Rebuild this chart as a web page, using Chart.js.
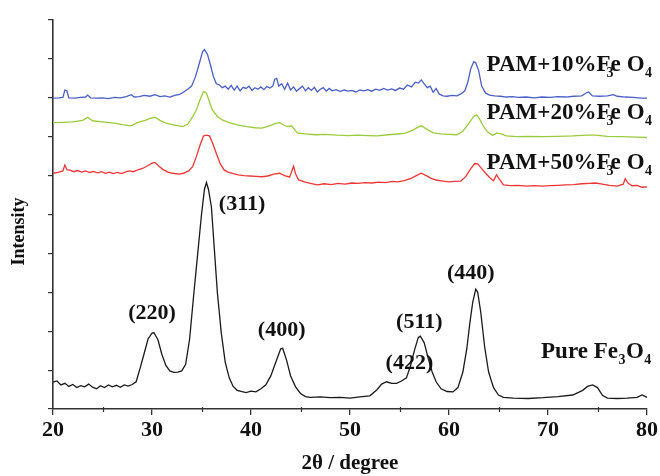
<!DOCTYPE html>
<html>
<head>
<meta charset="utf-8">
<script src="https://cdn.jsdelivr.net/npm/chart.js@4.4.1/dist/chart.umd.min.js"></script>
<style>
html,body{margin:0;padding:0;background:#fff;}
#wrap{width:660px;height:476px;position:relative;}
</style>
</head>
<body>
<div id="wrap"><canvas id="c" width="660" height="476"></canvas></div>
<script>
// ---- data: [2θ (degree), intensity (arbitrary, stacked)] ----
const pureFe3O4 = [[20.0,0.69],[20.4,0.72],[20.8,0.62],[21.2,0.66],[21.6,0.58],[22.0,0.63],[22.4,0.55],[22.8,0.60],[23.2,0.57],[23.6,0.64],[24.0,0.56],[24.4,0.52],[24.8,0.60],[25.2,0.55],[25.6,0.62],[26.0,0.57],[26.4,0.61],[26.8,0.56],[27.2,0.62],[27.6,0.59],[28.0,0.63],[28.4,0.70],[28.8,1.05],[29.2,1.42],[29.6,1.80],[30.0,1.95],[30.2,1.96],[30.6,1.78],[31.0,1.40],[31.4,1.12],[31.8,0.98],[32.2,0.94],[32.6,0.95],[33.0,0.98],[33.4,1.15],[33.8,1.80],[34.2,2.90],[34.6,3.95],[35.0,5.00],[35.3,5.65],[35.5,5.82],[35.7,5.65],[36.0,5.20],[36.3,4.10],[36.6,3.00],[37.0,1.95],[37.4,1.20],[37.8,0.80],[38.2,0.58],[38.6,0.48],[39.0,0.45],[39.5,0.42],[40.0,0.46],[40.5,0.44],[41.0,0.52],[41.5,0.62],[42.0,0.85],[42.5,1.20],[43.0,1.55],[43.2,1.56],[43.6,1.25],[44.0,0.85],[44.5,0.57],[45.0,0.40],[45.5,0.32],[46.0,0.30],[47.0,0.31],[48.0,0.29],[49.0,0.30],[50.0,0.28],[51.0,0.31],[52.0,0.34],[52.7,0.49],[53.2,0.64],[53.7,0.70],[54.2,0.66],[54.7,0.66],[55.2,0.72],[55.7,0.80],[56.1,1.10],[56.5,1.50],[56.9,1.84],[57.1,1.87],[57.5,1.70],[57.9,1.30],[58.3,0.95],[58.7,0.70],[59.2,0.52],[59.8,0.45],[60.4,0.44],[60.9,0.55],[61.4,0.95],[61.8,1.55],[62.1,2.20],[62.4,2.75],[62.7,3.08],[62.9,3.00],[63.2,2.50],[63.6,1.60],[64.0,0.95],[64.5,0.55],[65.0,0.36],[65.5,0.30],[66.5,0.28],[68.0,0.27],[69.5,0.29],[71.0,0.32],[72.5,0.36],[73.5,0.48],[74.0,0.58],[74.5,0.62],[75.0,0.55],[75.5,0.35],[76.0,0.28],[77.0,0.27],[78.0,0.28],[79.0,0.30],[79.5,0.36],[80.0,0.30]];

const pam50 = [[20.0,6.06],[20.5,6.08],[21.0,6.12],[21.2,6.27],[21.4,6.15],[21.7,6.14],[22.1,6.10],[22.5,6.13],[22.9,6.09],[23.3,6.12],[23.7,6.08],[24.1,6.11],[24.5,6.07],[24.9,6.10],[25.3,6.06],[25.7,6.09],[26.1,6.05],[26.5,6.08],[26.9,6.05],[27.3,6.09],[27.7,6.12],[28.1,6.10],[28.6,6.15],[29.1,6.19],[29.6,6.26],[30.0,6.32],[30.3,6.34],[30.7,6.24],[31.1,6.16],[31.6,6.09],[32.1,6.06],[32.7,6.04],[33.2,6.06],[33.7,6.12],[34.1,6.23],[34.5,6.50],[34.9,6.82],[35.2,7.02],[35.5,7.04],[35.8,7.02],[36.1,6.85],[36.5,6.57],[36.9,6.30],[37.3,6.14],[37.7,6.09],[38.2,6.05],[38.7,6.02],[39.3,6.00],[39.9,5.99],[40.5,5.98],[41.1,5.97],[41.7,5.99],[42.3,6.04],[42.9,6.06],[43.4,6.00],[43.9,5.96],[44.1,6.10],[44.3,6.24],[44.5,6.05],[44.8,5.89],[45.4,5.84],[46.0,5.80],[46.7,5.76],[47.4,5.79],[48.1,5.77],[48.8,5.80],[49.5,5.78],[50.2,5.81],[50.8,5.80],[51.5,5.82],[52.2,5.81],[52.9,5.83],[53.6,5.82],[54.3,5.85],[54.8,5.84],[55.5,5.87],[56.1,5.92],[56.7,6.00],[57.2,6.06],[57.7,6.00],[58.2,5.93],[58.8,5.88],[59.4,5.86],[60.0,5.84],[60.6,5.85],[61.2,5.86],[61.7,5.98],[62.2,6.18],[62.6,6.31],[62.9,6.30],[63.3,6.18],[63.7,6.06],[64.1,5.95],[64.5,5.87],[64.8,6.02],[65.1,5.90],[65.5,5.76],[66.2,5.74],[67.0,5.75],[67.8,5.73],[68.6,5.74],[69.4,5.73],[70.2,5.74],[71.0,5.75],[71.8,5.76],[72.6,5.77],[73.4,5.79],[74.2,5.80],[74.8,5.81],[75.5,5.78],[76.2,5.75],[77.0,5.73],[77.6,5.78],[77.8,5.92],[78.1,5.80],[78.5,5.74],[79.0,5.75],[79.5,5.70],[80.0,5.71]];

const pam20 = [[20.0,7.36],[21.0,7.37],[22.0,7.38],[23.0,7.42],[23.5,7.50],[24.0,7.41],[24.7,7.39],[25.5,7.37],[26.2,7.35],[27.0,7.31],[27.9,7.28],[28.5,7.36],[29.3,7.42],[29.8,7.47],[30.3,7.50],[30.8,7.42],[31.5,7.34],[32.3,7.30],[33.1,7.26],[33.6,7.32],[34.1,7.51],[34.5,7.70],[34.9,7.98],[35.2,8.16],[35.5,8.12],[35.8,7.90],[36.1,7.69],[36.6,7.52],[37.1,7.43],[37.8,7.36],[38.7,7.30],[39.6,7.26],[40.4,7.23],[41.1,7.22],[41.8,7.27],[42.5,7.34],[42.9,7.36],[43.3,7.30],[43.7,7.26],[44.1,7.28],[44.4,7.18],[44.7,7.09],[45.5,7.07],[46.5,7.05],[47.5,7.06],[48.7,7.04],[49.8,7.03],[50.8,7.04],[51.8,7.03],[52.8,7.02],[53.8,7.05],[54.8,7.07],[55.6,7.09],[56.3,7.16],[56.8,7.24],[57.2,7.28],[57.7,7.20],[58.4,7.10],[59.2,7.07],[60.0,7.06],[60.8,7.05],[61.4,7.14],[62.0,7.34],[62.5,7.52],[62.8,7.56],[63.1,7.45],[63.4,7.30],[63.9,7.12],[64.4,7.04],[64.8,7.09],[65.2,7.08],[65.8,7.02],[66.8,7.00],[68.0,7.01],[69.5,7.00],[71.0,7.01],[72.5,7.02],[74.0,7.04],[74.8,7.04],[76.0,7.01],[77.5,7.00],[79.0,6.99],[80.0,6.98]];

const pam10 = [[20.0,7.99],[20.6,8.00],[21.0,8.01],[21.2,8.20],[21.4,8.18],[21.6,8.00],[22.2,7.99],[22.8,8.01],[23.3,8.02],[23.5,8.07],[23.8,8.00],[24.4,7.99],[25.0,8.00],[25.6,7.98],[26.2,8.01],[26.8,8.00],[27.4,8.03],[27.9,8.08],[28.2,8.02],[28.7,8.03],[29.2,8.06],[29.8,8.04],[30.3,8.08],[30.8,8.03],[31.3,8.05],[31.8,8.02],[32.3,8.06],[32.8,8.09],[33.2,8.15],[33.6,8.22],[34.0,8.30],[34.4,8.55],[34.8,8.90],[35.1,9.18],[35.3,9.24],[35.6,9.12],[35.9,8.85],[36.2,8.55],[36.5,8.36],[36.8,8.33],[37.1,8.26],[37.4,8.30],[37.7,8.22],[38.0,8.32],[38.3,8.20],[38.6,8.30],[38.9,8.18],[39.2,8.27],[39.5,8.24],[39.8,8.30],[40.1,8.19],[40.4,8.26],[40.7,8.22],[41.0,8.28],[41.3,8.21],[41.6,8.29],[41.9,8.25],[42.2,8.30],[42.4,8.48],[42.6,8.50],[42.8,8.30],[43.1,8.36],[43.4,8.22],[43.7,8.38],[44.0,8.20],[44.3,8.28],[44.6,8.17],[44.9,8.24],[45.2,8.30],[45.5,8.18],[45.8,8.26],[46.1,8.19],[46.4,8.27],[46.7,8.15],[47.0,8.22],[47.3,8.26],[47.6,8.17],[47.9,8.24],[48.2,8.18],[48.6,8.21],[49.0,8.16],[49.4,8.20],[49.8,8.17],[50.2,8.19],[50.6,8.15],[51.0,8.20],[51.4,8.18],[51.8,8.21],[52.2,8.17],[52.6,8.22],[53.0,8.19],[53.4,8.24],[53.8,8.20],[54.2,8.23],[54.6,8.19],[55.0,8.25],[55.4,8.22],[55.8,8.33],[56.2,8.28],[56.6,8.40],[56.9,8.38],[57.2,8.46],[57.5,8.36],[57.8,8.26],[58.1,8.30],[58.4,8.14],[58.7,8.24],[59.0,8.10],[59.4,8.05],[59.8,8.04],[60.3,8.06],[60.8,8.05],[61.2,8.10],[61.6,8.18],[61.9,8.40],[62.2,8.75],[62.5,8.93],[62.7,8.90],[63.0,8.70],[63.3,8.30],[63.7,8.12],[64.1,8.07],[64.6,8.05],[65.2,8.04],[65.8,8.02],[66.4,8.03],[67.0,8.01],[67.8,8.02],[68.6,8.00],[69.4,8.02],[70.2,8.01],[71.0,8.03],[71.8,8.02],[72.6,8.04],[73.4,8.05],[73.9,8.13],[74.1,8.15],[74.5,8.05],[75.2,8.04],[76.0,8.05],[76.6,8.08],[77.0,8.04],[77.8,8.02],[78.6,8.01],[79.4,7.99],[80.0,7.99]];

const xTicks = [20, 30, 40, 50, 60, 70, 80];
const xMinorTicks = [25, 35, 45, 55, 65, 75];

// peak (hkl) labels, anchored in data coordinates [2θ, intensity]
const peakLabels = ['(220)', '(311)', '(400)', '(422)', '(511)', '(440)'];
const peakAnchors = [[30.0, 2.47], [39.1, 5.27], [43.1, 2.01], [56.0, 1.18], [57.0, 2.24], [62.2, 3.50]];

// series name labels: prefix, anchor [2θ, intensity] of text baseline start
const seriesPrefixes = ['PAM+10%', 'PAM+20%', 'PAM+50%', 'Pure '];
const seriesAnchors = [[63.8, 8.70], [63.8, 7.45], [63.8, 6.17], [69.3, 1.31]];

const SERIF = '"Liberation Serif", "DejaVu Serif", serif';

const labelPlugin = {
  id: 'labels',
  afterDatasetsDraw(chart) {
    const ctx = chart.ctx;
    const xs = chart.scales.x, ys = chart.scales.y;
    const area = chart.chartArea;
    ctx.save();
    ctx.fillStyle = '#111';
    // minor x ticks
    ctx.strokeStyle = '#333';
    ctx.lineWidth = 1.2;
    xMinorTicks.forEach(v => {
      const px = Math.round(xs.getPixelForValue(v)) + 0.5;
      ctx.beginPath(); ctx.moveTo(px, area.bottom - 2); ctx.lineTo(px, area.bottom + 3); ctx.stroke();
    });
    // y axis title
    ctx.save();
    ctx.translate(19, (area.top + area.bottom) / 2 + 17);
    ctx.rotate(-Math.PI / 2);
    ctx.font = 'bold 18px ' + SERIF;
    ctx.textAlign = 'center';
    ctx.textBaseline = 'middle';
    ctx.fillText('Intensity', 0, 0);
    ctx.restore();
    // peak labels
    ctx.font = 'bold 22px ' + SERIF;
    ctx.textAlign = 'center';
    ctx.textBaseline = 'middle';
    peakLabels.forEach((t, i) => {
      ctx.fillText(t, xs.getPixelForValue(peakAnchors[i][0]), ys.getPixelForValue(peakAnchors[i][1]));
    });
    // series labels with subscripts
    ctx.textAlign = 'left';
    ctx.textBaseline = 'alphabetic';
    seriesPrefixes.forEach((p, i) => {
      const x = xs.getPixelForValue(seriesAnchors[i][0]);
      const y = ys.getPixelForValue(seriesAnchors[i][1]);
      const big = 23;
      const mainFont = 'bold ' + big + 'px ' + SERIF;
      const subFont = 'bold ' + Math.round(big * 0.6) + 'px ' + SERIF;
      ctx.font = mainFont;
      const main = p + 'Fe';
      ctx.fillText(main, x, y);
      const wMain = ctx.measureText(main).width;
      const wE = ctx.measureText('e').width;
      let x3, xO;
      if (i < 3) { x3 = x + wMain - wE - 4; xO = x + wMain + 6; }
      else { x3 = x + wMain + 0.5; }
      ctx.font = subFont;
      ctx.fillText('3', x3, y + 6);
      const w3 = ctx.measureText('3').width;
      if (i >= 3) xO = x3 + w3 + 0.5;
      ctx.font = mainFont;
      ctx.fillText('O', xO, y);
      const wO = ctx.measureText('O').width;
      ctx.font = subFont;
      ctx.fillText('4', xO + wO + 0.5, y + 6);
    });
    ctx.restore();
  }
};

const mk = (label, data, color) => ({
  label, data, borderColor: color, borderWidth: 1.3,
  pointRadius: 0, tension: 0, fill: false
});

new Chart(document.getElementById('c'), {
  type: 'line',
  data: {
    datasets: [
      mk('Pure Fe3O4', pureFe3O4, '#1a1a1a'),
      mk('PAM+50%Fe3O4', pam50, '#ee3535'),
      mk('PAM+20%Fe3O4', pam20, '#9acb3c'),
      mk('PAM+10%Fe3O4', pam10, '#4a5fc6')
    ]
  },
  options: {
    responsive: false,
    animation: false,
    events: [],
    layout: { padding: { top: 20, right: 13, left: 0, bottom: 0 } },
    plugins: { legend: { display: false }, tooltip: { enabled: false } },
    scales: {
      x: {
        type: 'linear', min: 20, max: 80,
        afterBuildTicks(s) { s.ticks = xTicks.map(v => ({ value: v })); },
        afterFit(s) { s.height = 67; },
        border: { color: '#333', width: 1.6 },
        grid: { drawOnChartArea: false, drawTicks: true, tickLength: 6, color: '#333', lineWidth: 1.3 },
        ticks: { color: '#111', padding: 2, maxRotation: 0, font: { family: SERIF, size: 22, weight: 'bold' } },
        title: { display: true, text: '2θ / degree', color: '#111', padding: { top: 0, bottom: 0 },
                 font: { family: SERIF, size: 21, weight: 'bold' } }
      },
      y: {
        min: 0, max: 10,
        ticks: { display: false, stepSize: 1 },
        afterFit(s) { s.width = 53; },
        border: { color: '#333', width: 1.6 },
        grid: { drawOnChartArea: false, drawTicks: true, tickLength: 5, color: '#333', lineWidth: 1.2 }
      }
    }
  },
  plugins: [labelPlugin]
});
</script>
</body>
</html>
